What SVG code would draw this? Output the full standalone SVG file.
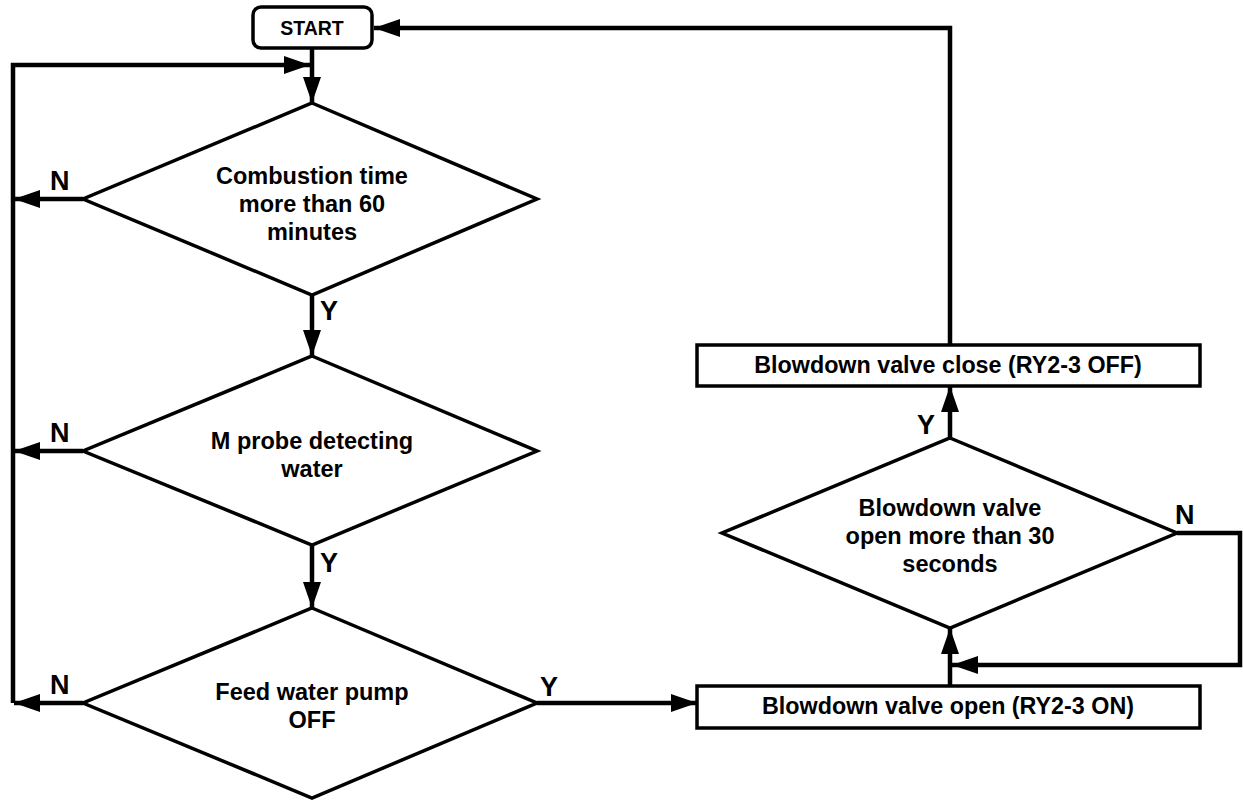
<svg xmlns="http://www.w3.org/2000/svg" width="1243" height="801" viewBox="0 0 1243 801">
<defs>
<style>
.shape{fill:#fff;stroke:#000;stroke-width:3.5}
.conn{fill:none;stroke:#000;stroke-width:4.5}
.t{font-family:"Liberation Sans",Arial,sans-serif;font-weight:bold;fill:#000;text-anchor:middle}
.lbl{font-family:"Liberation Sans",Arial,sans-serif;font-weight:bold;fill:#000;font-size:27px}
.d{font-size:23.5px}
.b{font-size:23.3px}
</style>
<marker id="ah" markerUnits="userSpaceOnUse" markerWidth="28" markerHeight="20" refX="26" refY="9" orient="auto">
<path d="M0,0 L26,9 L0,18 z" fill="#000"/>
</marker>
</defs>
<rect width="1243" height="801" fill="#fff"/>
<g id="connectors">
<polyline class="conn" points="950,345 950,28 374,28" marker-end="url(#ah)"/>
<polyline class="conn" points="13,703 13,65 310,65" marker-end="url(#ah)"/>
<line class="conn" x1="312" y1="48" x2="312" y2="103" marker-end="url(#ah)"/>
<line class="conn" x1="83" y1="199" x2="14" y2="199" marker-end="url(#ah)"/>
<line class="conn" x1="312" y1="295" x2="312" y2="356" marker-end="url(#ah)"/>
<line class="conn" x1="83" y1="451" x2="14" y2="451" marker-end="url(#ah)"/>
<line class="conn" x1="312" y1="545" x2="312" y2="608" marker-end="url(#ah)"/>
<line class="conn" x1="83" y1="703" x2="14" y2="703" marker-end="url(#ah)"/>
<line class="conn" x1="537" y1="703" x2="697" y2="703" marker-end="url(#ah)"/>
<line class="conn" x1="950" y1="686" x2="950" y2="628" marker-end="url(#ah)"/>
<polyline class="conn" points="1177,533 1240,533 1240,665 952,665" marker-end="url(#ah)"/>
<line class="conn" x1="950" y1="438" x2="950" y2="386" marker-end="url(#ah)"/>
<text class="lbl" x="50" y="190">N</text>
<text class="lbl" x="50" y="442">N</text>
<text class="lbl" x="50" y="694">N</text>
<text class="lbl" x="320" y="320">Y</text>
<text class="lbl" x="320" y="572">Y</text>
<text class="lbl" x="540" y="696">Y</text>
<text class="lbl" x="1175" y="524">N</text>
<text class="lbl" x="917" y="434">Y</text>
</g>
<g id="start">
<rect class="shape" x="253" y="7" width="119" height="41" rx="8"/>
<text class="t" x="312" y="35" font-size="19.5px">START</text>
</g>
<g id="combustion">
<polygon class="shape" points="312,103 537,199 312,295 83,199"/>
<text class="t d" x="312" y="184">Combustion time</text>
<text class="t d" x="312" y="212">more than 60</text>
<text class="t d" x="312" y="240">minutes</text>
</g>
<g id="mprobe">
<polygon class="shape" points="312,356 537,451 312,545 83,451"/>
<text class="t d" x="312" y="449">M probe detecting</text>
<text class="t d" x="312" y="477">water</text>
</g>
<g id="feedpump">
<polygon class="shape" points="312,608 537,703 312,798 83,703"/>
<text class="t d" x="312" y="700">Feed water pump</text>
<text class="t d" x="312" y="728">OFF</text>
</g>
<g id="open">
<rect class="shape" x="697" y="686" width="503" height="42"/>
<text class="t b" x="948" y="714">Blowdown valve open (RY2-3 ON)</text>
</g>
<g id="wait30">
<polygon class="shape" points="950,438 1177,533 950,628 722,533"/>
<text class="t d" x="950" y="516">Blowdown valve</text>
<text class="t d" x="950" y="544">open more than 30</text>
<text class="t d" x="950" y="572">seconds</text>
</g>
<g id="close">
<rect class="shape" x="697" y="345" width="503" height="41"/>
<text class="t b" x="948" y="373">Blowdown valve close (RY2-3 OFF)</text>
</g>
</svg>
